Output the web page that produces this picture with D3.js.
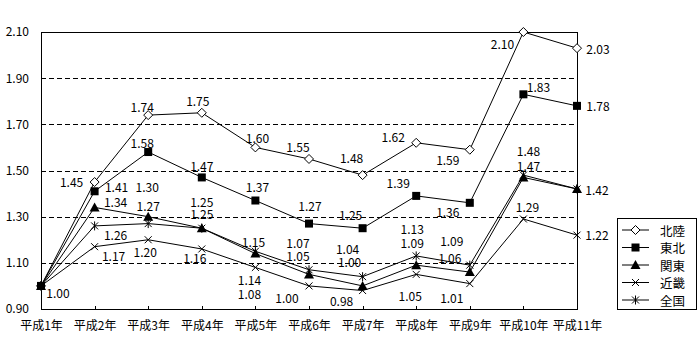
<!DOCTYPE html>
<html>
<head>
<meta charset="utf-8">
<script src="https://cdn.jsdelivr.net/npm/d3@7/dist/d3.min.js"></script>
<style>
  html, body { margin: 0; padding: 0; background: #fff; }
  svg { display: block; }
  text { font-family: "Noto Sans CJK JP", "DejaVu Sans", sans-serif; fill: #000; }
</style>
</head>
<body>
<script>
// ---- data ----
const categories = ["平成1年","平成2年","平成3年","平成4年","平成5年","平成6年","平成7年","平成8年","平成9年","平成10年","平成11年"];
const seriesNames = ["北陸","東北","関東","近畿","全国"];
const hokuriku = [1.00,1.45,1.74,1.75,1.60,1.55,1.48,1.62,1.59,2.10,2.03];
const tohoku   = [1.00,1.41,1.58,1.47,1.37,1.27,1.25,1.39,1.36,1.83,1.78];
const kanto    = [1.00,1.34,1.30,1.25,1.14,1.05,1.00,1.09,1.06,1.47,1.42];
const kinki    = [1.00,1.17,1.20,1.16,1.08,1.00,0.98,1.05,1.01,1.29,1.22];
const zenkoku  = [1.00,1.26,1.27,1.25,1.15,1.07,1.04,1.13,1.09,1.48,1.42];
const yTicks   = [0.90,1.10,1.30,1.50,1.70,1.90,2.10];

// ---- label placement (pixel offsets from point, null = no label) ----
const labelOffsets = [
  [null,[-23,-1],[-6,-9],[-4,-12],[2,-10],[-11,-12],[-11,-18],[-23,-6],[-22,10],[-21,11],[21,0]],
  [[17,7],[22,-5],[-6,-10],[0,-12],[2,-14],[1,-18],[-12,-14],[-18,-13],[-22,9],[15,-8],[21,0]],
  [null,[21,-6],[-1,-30],[0,-27],[-6,26],[-11,-19],[-13,-24],[-4,-23],[-20,-15],[5,-12],[20,1]],
  [null,[19,9],[-3,12],[-7,9],[-6,26],[-22,12],[-21,10],[-6,21],[-18,14],[4,-12],[20,-1]],
  [null,[21,9],[0,-18],[0,-15],[-2,-10],[-11,-27],[-15,-28],[-4,-27],[-18,-25],[5,-25],null]
];

const seriesValues = [hokuriku, tohoku, kanto, kinki, zenkoku];
const markerTypes = ["diamond","square","triangle","x","asterisk"];

const W = 700, H = 360;
const plotL = 41, plotR = 577, plotT = 32, plotB = 309;

const svg = d3.select("body").append("svg").attr("width", W).attr("height", H);

const x = d3.scalePoint().domain(categories).range([plotL, plotR]).padding(0);
const y = d3.scaleLinear().domain([0.9, 2.1]).range([plotB, plotT]);

// gridlines
svg.append("g").selectAll("line")
  .data(yTicks.filter(v => v > 0.9 && v < 2.1))
  .join("line")
  .attr("x1", plotL).attr("x2", plotR)
  .attr("y1", d => Math.round(y(d)) + 0.5).attr("y2", d => Math.round(y(d)) + 0.5)
  .attr("stroke", "#000").attr("stroke-width", 1)
  .attr("stroke-dasharray", "5,3")
  .attr("shape-rendering", "crispEdges");

// frame
svg.append("rect")
  .attr("x", plotL + 0.5).attr("y", plotT + 0.5)
  .attr("width", plotR - plotL).attr("height", plotB - plotT)
  .attr("fill", "none").attr("stroke", "#000").attr("stroke-width", 1)
  .attr("shape-rendering", "crispEdges");

// y axis
const yAxis = svg.append("g")
  .attr("transform", `translate(${plotL},0)`)
  .call(d3.axisLeft(y).tickValues(yTicks).tickSize(0).tickPadding(12).tickFormat(d3.format(".2f")));
yAxis.select(".domain").remove();
yAxis.selectAll("text").style("font-size", "12px").attr("fill", "#000");

// x axis
const xAxis = svg.append("g")
  .attr("transform", `translate(0,${plotB + 0.5})`)
  .call(d3.axisBottom(x).tickSize(-4).tickPadding(12));
xAxis.select(".domain").remove();
xAxis.selectAll(".tick line").attr("stroke", "#000").attr("shape-rendering", "crispEdges");
xAxis.selectAll("text").style("font-size", "12px").attr("fill", "#000");

// marker drawer
function drawMarker(g, type) {
  if (type === "diamond") {
    g.append("path").attr("d", "M0,-4.5L4.5,0L0,4.5L-4.5,0Z").attr("fill", "#fff").attr("stroke", "#000").attr("stroke-width", 1);
  } else if (type === "square") {
    g.append("rect").attr("x", -4).attr("y", -4).attr("width", 8).attr("height", 8).attr("fill", "#000");
  } else if (type === "triangle") {
    g.append("path").attr("d", "M0,-5L5,4L-5,4Z").attr("fill", "#000");
  } else if (type === "x") {
    g.append("path").attr("d", "M-3.5,-3.5L3.5,3.5M-3.5,3.5L3.5,-3.5").attr("stroke", "#000").attr("stroke-width", 1).attr("fill", "none");
  } else if (type === "asterisk") {
    g.append("path").attr("d", "M-3.5,-3.5L3.5,3.5M-3.5,3.5L3.5,-3.5M0,-4.5L0,4.5").attr("stroke", "#000").attr("stroke-width", 1).attr("fill", "none");
  }
}

const line = d3.line().x((d, i) => x(categories[i])).y(d => y(d));

// lines
seriesValues.forEach((vals) => {
  svg.append("path").datum(vals)
    .attr("d", line)
    .attr("fill", "none").attr("stroke", "#000").attr("stroke-width", 1);
});

// markers
seriesValues.forEach((vals, si) => {
  vals.forEach((v, i) => {
    const g = svg.append("g").attr("transform", `translate(${x(categories[i])},${y(v)})`);
    drawMarker(g, markerTypes[si]);
  });
});

// labels
seriesValues.forEach((vals, si) => {
  vals.forEach((v, i) => {
    const off = labelOffsets[si][i];
    if (!off) return;
    svg.append("text")
      .attr("x", x(categories[i]) + off[0])
      .attr("y", y(v) + off[1])
      .attr("text-anchor", "middle")
      .attr("dominant-baseline", "central")
      .style("font-size", "12px")
      .text(d3.format(".2f")(v));
  });
});

// legend
const lg = svg.append("g");
lg.append("rect").attr("x", 617.5).attr("y", 218.5).attr("width", 79).attr("height", 91)
  .attr("fill", "#fff").attr("stroke", "#000").attr("stroke-width", 1).attr("shape-rendering", "crispEdges");
seriesNames.forEach((name, i) => {
  const yy = 230 + i * 17.5;
  lg.append("line").attr("x1", 622).attr("x2", 649).attr("y1", yy).attr("y2", yy)
    .attr("stroke", "#000").attr("stroke-width", 1);
  const g = lg.append("g").attr("transform", `translate(635.5,${yy})`);
  drawMarker(g, markerTypes[i]);
  lg.append("text").attr("x", 660).attr("y", yy).attr("dominant-baseline", "central")
    .style("font-size", "12.5px").text(name);
});
</script>
</body>
</html>
